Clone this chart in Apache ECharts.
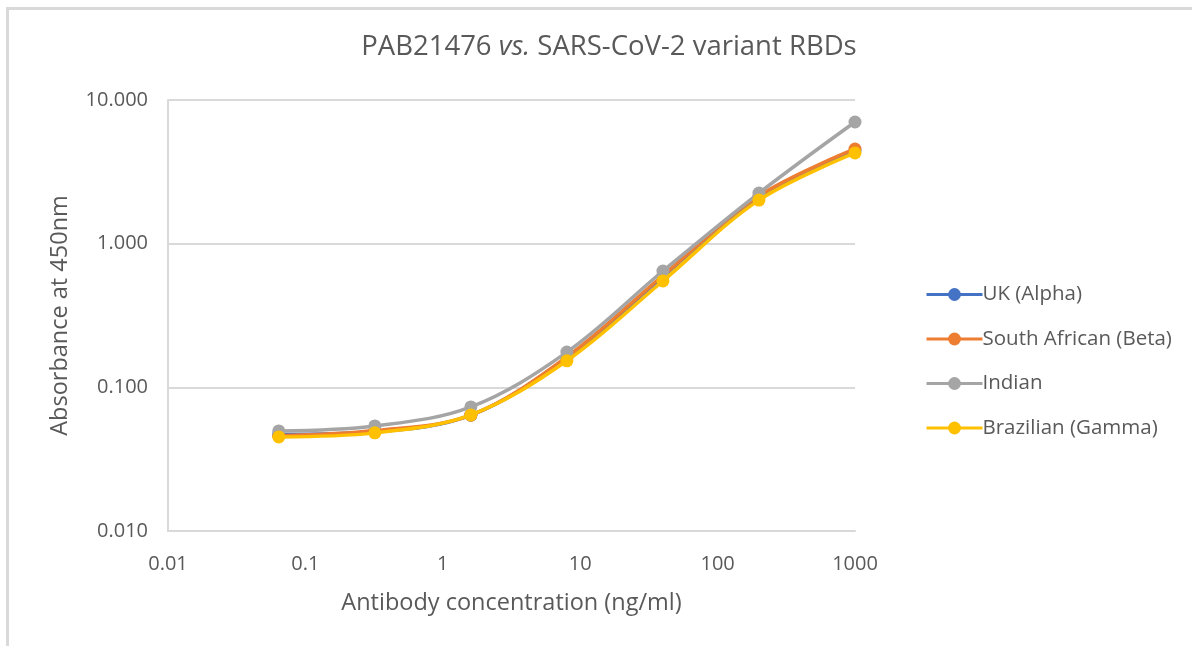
<!DOCTYPE html>
<html>
<head>
<meta charset="utf-8">
<script src="https://cdn.jsdelivr.net/npm/echarts@6/dist/echarts.min.js"></script>
<style>
html,body{margin:0;padding:0;background:#fff;}
#frame{position:absolute;left:6px;top:7px;width:1186px;height:639px;border-top:3px solid #d9d9d9;border-left:3px solid #d9d9d9;box-sizing:border-box;}
#chart{position:absolute;left:0;top:0;width:1192px;height:646px;}
</style>
</head>
<body>
<div id="frame"></div>
<div id="chart"></div>
<script>
const concentrations = [0.064, 0.32, 1.6, 8, 40, 200, 1000];
const seriesNames = ['UK (Alpha)', 'South African (Beta)', 'Indian', 'Brazilian (Gamma)'];
const ukAlpha = [0.047, 0.049, 0.064, 0.160, 0.590, 2.12, 4.45];
const saBeta = [0.046, 0.050, 0.064, 0.163, 0.600, 2.15, 4.56];
const indian = [0.0497, 0.0539, 0.0731, 0.176, 0.645, 2.25, 7.03];
const brGamma = [0.0452, 0.0482, 0.0643, 0.153, 0.550, 2.01, 4.28];
const colors = ['#4472C4', '#ED7D31', '#A5A5A5', '#FFC000'];
const xTicks = [0.01, 0.1, 1, 10, 100, 1000];
const yTicks = [0.01, 0.1, 1, 10];

const values = [ukAlpha, saBeta, indian, brGamma];
const FONT = '"Open Sans", Lato, sans-serif';
const chart = echarts.init(document.getElementById('chart'));
chart.setOption({
  backgroundColor: 'transparent',
  animation: false,
  title: {
    text: '{n|PAB21476 }{i|vs.}{n| SARS-CoV-2 variant RBDs}',
    left: 604, textAlign: 'center', top: 28,
    textStyle: {
      fontWeight: 'normal',
      rich: {
        n: {fontFamily: FONT, fontSize: 27.5, color: '#595959', fontWeight: 'normal'},
        i: {fontFamily: FONT, fontSize: 27.5, color: '#595959', fontStyle: 'italic', fontWeight: 'normal'}
      }
    }
  },
  legend: {
    orient: 'vertical', left: 920, top: 279, itemGap: 23.5,
    itemWidth: 56, itemHeight: 16,
    data: seriesNames,
    lineStyle: {width: 3},
    textStyle: {fontFamily: FONT, fontSize: 20.5, color: '#595959', padding: [0,0,0,-5]}
  },
  grid: {left: 168, right: 337, top: 100, bottom: 115},
  xAxis: {
    type: 'log', logBase: 10, min: 0.01, max: 1000,
    name: 'Antibody concentration (ng/ml)', nameLocation: 'middle', nameGap: 60,
    nameTextStyle: {fontFamily: FONT, fontSize: 23.5, color: '#595959'},
    axisLine: {show: true, lineStyle: {color: '#d9d9d9', width: 2}},
    axisTick: {show: false},
    splitLine: {show: false},
    minorTick: {show: false},
    axisLabel: {fontFamily: FONT, fontSize: 20, color: '#595959', margin: 23,
      formatter: v => { const t = xTicks.find(k => Math.abs(Math.log10(k) - Math.log10(v)) < 1e-6); return t === undefined ? '' : String(t); }}
  },
  yAxis: {
    type: 'log', logBase: 10, min: 0.01, max: 10,
    name: 'Absorbance at 450nm', nameLocation: 'middle', nameGap: 96, nameRotate: 90,
    nameTextStyle: {fontFamily: FONT, fontSize: 23.5, color: '#595959'},
    axisLine: {show: true, lineStyle: {color: '#d9d9d9', width: 2}},
    axisTick: {show: false},
    splitLine: {show: true, lineStyle: {color: '#d9d9d9', width: 2}},
    axisLabel: {fontFamily: FONT, fontSize: 20, color: '#595959', margin: 20,
      formatter: v => { const t = yTicks.find(k => Math.abs(Math.log10(k) - Math.log10(v)) < 1e-6); return t === undefined ? '' : t.toFixed(3); }}
  },
  series: seriesNames.map((name, i) => ({
    name: name, type: 'line', smooth: 0.35,
    data: concentrations.map((c, j) => [c, values[i][j]]),
    symbol: 'circle', symbolSize: 13,
    lineStyle: {color: colors[i], width: 3.5},
    itemStyle: {color: colors[i]},
    z: 2 + i
  }))
});
</script>
</body>
</html>
